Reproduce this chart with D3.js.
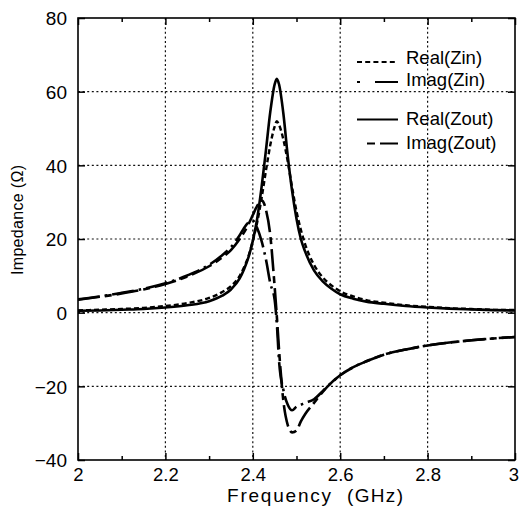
<!DOCTYPE html>
<html>
<head>
<meta charset="utf-8">
<script src="https://cdn.jsdelivr.net/npm/d3@7/dist/d3.min.js"></script>
<style>
  html, body { margin: 0; padding: 0; background: #fff; }
  svg { display: block; }
</style>
</head>
<body>
<svg id="chart" width="519" height="516"></svg>
<script>
// ---- data ----
const freq = [2.00, 2.05, 2.10, 2.15, 2.20, 2.25, 2.30, 2.33, 2.35, 2.37, 2.38, 2.39, 2.40, 2.41, 2.42, 2.43, 2.44, 2.45, 2.455, 2.46, 2.47, 2.48, 2.49, 2.50, 2.51, 2.52, 2.54, 2.56, 2.58, 2.60, 2.63, 2.66, 2.70, 2.75, 2.80, 2.85, 2.90, 2.95, 3.00];
const realZin  = [0.6, 0.8, 1.0, 1.3, 1.8, 2.6, 4.0, 5.6, 7.2, 10, 12.3, 15.3, 19.5, 24.5, 31, 38.5, 45.5, 50.5, 52, 51, 47, 41, 34, 27.5, 22.5, 18.5, 13, 9.6, 7.4, 5.8, 4.4, 3.4, 2.7, 2.0, 1.6, 1.2, 1.0, 0.8, 0.7];
const imagZin  = [3.6, 4.4, 5.4, 6.5, 8.0, 10.1, 13, 15.6, 17.8, 21, 23, 24.5, 25, 23, 19.5, 14.5, 8, 3.5, -3, -13, -21, -25, -26.5, -25.5, -25, -24.5, -23.5, -21.3, -19, -17, -14.8, -13.2, -11.4, -10, -8.9, -8.1, -7.5, -7.0, -6.6];
const realZout = [0.5, 0.6, 0.8, 1.0, 1.4, 2.0, 3.1, 4.6, 6.3, 9.3, 11.8, 15, 19.5, 25.5, 34, 44, 54.5, 62, 63.5, 62, 54, 42.5, 33, 25.5, 20, 16.5, 11.5, 8.5, 6.5, 5.0, 3.8, 3.0, 2.4, 1.8, 1.4, 1.1, 0.9, 0.7, 0.6];
const imagZout = [3.5, 4.3, 5.2, 6.3, 7.8, 9.8, 12.6, 15, 17, 20, 21.8, 24, 26.5, 29, 30.5, 28, 21, 7, -1, -10, -24, -30.5, -32.5, -32, -29.5, -27.5, -24.5, -21.5, -19, -17, -14.8, -13.2, -11.4, -10, -8.9, -8.1, -7.5, -7.0, -6.6];

const xTicks = [2, 2.2, 2.4, 2.6, 2.8, 3];
const xTickLabels = ["2", "2.2", "2.4", "2.6", "2.8", "3"];
const xMinor = [2.1, 2.3, 2.5, 2.7, 2.9];
const yTicks = [-40, -20, 0, 20, 40, 60, 80];
const yTickLabels = ["\u221240", "\u221220", "0", "20", "40", "60", "80"];

const seriesNames = ["Real(Zin)", "Imag(Zin)", "Real(Zout)", "Imag(Zout)"];
const seriesValues = [realZin, imagZin, realZout, imagZout];

// ---- layout / styles ----
const L = 78, R = 515, T = 18, B = 460;
const styles = [
  { dash: "5,3", width: 2.4 },
  { dash: "22,5,2.5,5", width: 2.6 },
  { dash: null, width: 2.6 },
  { dash: "22,5,7,5", width: 2.6 }
];

const svg = d3.select("#chart");
const x = d3.scaleLinear().domain([2, 3]).range([L, R]);
const y = d3.scaleLinear().domain([-40, 80]).range([B, T]);

const font = "'Liberation Sans', Arial, Helvetica, sans-serif";

// grid
const grid = svg.append("g").attr("stroke", "#111").attr("stroke-width", 1.2).attr("stroke-dasharray", "2,2.6");
grid.selectAll("line.vx").data(xTicks.slice(1, -1)).join("line")
  .attr("x1", d => x(d)).attr("x2", d => x(d)).attr("y1", T).attr("y2", B);
grid.selectAll("line.hy").data(yTicks.slice(1, -1)).join("line")
  .attr("class", "hy")
  .attr("x1", L).attr("x2", R).attr("y1", d => y(d)).attr("y2", d => y(d));

// curves
const clipId = "plotclip";
svg.append("clipPath").attr("id", clipId).append("rect")
  .attr("x", L).attr("y", T).attr("width", R - L).attr("height", B - T);
const line = d3.line().x(d => x(d[0])).y(d => y(d[1])).curve(d3.curveMonotoneX);
const curves = svg.append("g").attr("clip-path", `url(#${clipId})`);
seriesValues.forEach((vals, i) => {
  const pts = freq.map((f, j) => [f, vals[j]]);
  curves.append("path")
    .attr("d", line(pts))
    .attr("fill", "none")
    .attr("stroke", "#000")
    .attr("stroke-width", styles[i].width)
    .attr("stroke-dasharray", styles[i].dash)
    .attr("stroke-linejoin", "round");
});

// axes with inward ticks (all four sides)
const axB = d3.axisBottom(x).tickValues(xTicks).tickSizeInner(-7).tickSizeOuter(0).tickFormat((d, i) => xTickLabels[i]);
const axT = d3.axisTop(x).tickValues(xTicks).tickSizeInner(-7).tickSizeOuter(0).tickFormat("");
const axL = d3.axisLeft(y).tickValues(yTicks).tickSizeInner(-7).tickSizeOuter(0).tickFormat((d, i) => yTickLabels[i]);
const axR = d3.axisRight(y).tickValues(yTicks).tickSizeInner(-7).tickSizeOuter(0).tickFormat("");
const axBm = d3.axisBottom(x).tickValues(xMinor).tickSizeInner(-4).tickSizeOuter(0).tickFormat("");
const axTm = d3.axisTop(x).tickValues(xMinor).tickSizeInner(-4).tickSizeOuter(0).tickFormat("");

function styleAxis(g) {
  g.select(".domain").remove();
  g.selectAll(".tick line").attr("stroke", "#000").attr("stroke-width", 1.5);
  g.selectAll(".tick text").attr("fill", "#000").attr("font-family", font).attr("font-size", 19);
}
const gB = svg.append("g").attr("transform", `translate(0,${B})`).call(axB).call(styleAxis);
gB.selectAll(".tick text").attr("dy", null).attr("y", 21).attr("font-size", 18.5)
  .attr("text-anchor", (d, i) => i === xTicks.length - 1 ? "end" : "middle")
  .attr("x", (d, i) => i === xTicks.length - 1 ? 3.5 : 0);
svg.append("g").attr("transform", `translate(0,${B})`).call(axBm).call(styleAxis);
svg.append("g").attr("transform", `translate(0,${T})`).call(axT).call(styleAxis);
svg.append("g").attr("transform", `translate(0,${T})`).call(axTm).call(styleAxis);
const gL = svg.append("g").attr("transform", `translate(${L},0)`).call(axL).call(styleAxis);
gL.selectAll(".tick text").attr("x", -11).attr("dy", "0.36em");
svg.append("g").attr("transform", `translate(${R},0)`).call(axR).call(styleAxis);

// frame
svg.append("rect").attr("x", L).attr("y", T).attr("width", R - L).attr("height", B - T)
  .attr("fill", "none").attr("stroke", "#000").attr("stroke-width", 1.6);

// axis titles
const xTitle = svg.append("text").attr("y", 502)
  .attr("font-family", font).attr("font-size", 19).attr("fill", "#000");
xTitle.append("tspan").attr("x", 227).attr("textLength", 104).attr("lengthAdjust", "spacing").text("Frequency");
xTitle.append("tspan").attr("x", 347).attr("textLength", 56).attr("lengthAdjust", "spacing").text("(GHz)");
svg.append("text")
  .attr("transform", "translate(23,275) rotate(-90)")
  .attr("font-family", font).attr("font-size", 16).attr("fill", "#000")
  .attr("textLength", 110).attr("lengthAdjust", "spacing")
  .text("Impedance (\u03A9)");

// legend
const legRowsLineY = [62, 82, 119.5, 143.5];
const legRowsTextY = [64, 86, 124.5, 148.5];
const leg = svg.append("g");
seriesNames.forEach((name, i) => {
  leg.append("line")
    .attr("x1", i === 3 ? 367 : 357).attr("x2", 398)
    .attr("y1", legRowsLineY[i]).attr("y2", legRowsLineY[i])
    .attr("stroke", "#000").attr("stroke-width", 2.2)
    .attr("stroke-dasharray", i === 0 ? "5,3.2" : (i === 1 ? "3,15,23" : (i === 3 ? "8,5,18" : null)));
  leg.append("text")
    .attr("x", 406).attr("y", legRowsTextY[i])
    .attr("font-family", font).attr("font-size", 18.5)
    .attr("fill", "#000")
    .text(name);
});
</script>
</body>
</html>
